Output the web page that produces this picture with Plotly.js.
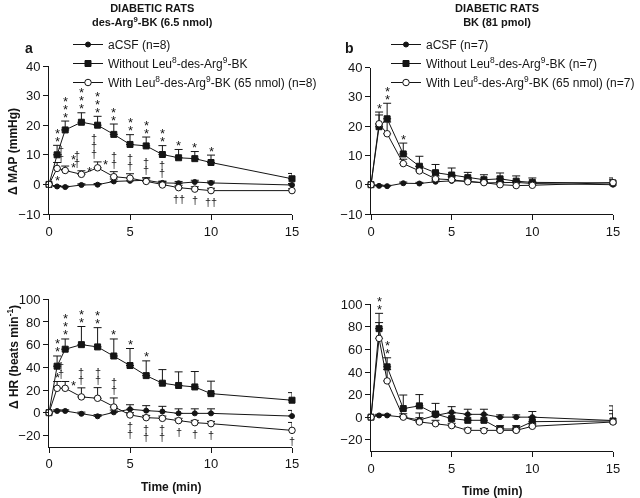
<!DOCTYPE html>
<html>
<head>
<meta charset="utf-8">
<script src="https://cdn.plot.ly/plotly-3.0.1.min.js"></script>
<style>
html,body{margin:0;padding:0;background:#fff;width:640px;height:498px;overflow:hidden;}
#chart{width:640px;height:498px;overflow:hidden;filter:grayscale(100%);}
</style>
</head>
<body>
<div id="chart"></div>
<script>
// ---- data ----
const times = [0, 0.5, 1, 2, 3, 4, 5, 6, 7, 8, 9, 10, 15];
const xTicks = [0, 5, 10, 15];
const mapTicks = [-10, 0, 10, 20, 30, 40];
const hrTicks = [-20, 0, 20, 40, 60, 80, 100];

const seriesNamesA = ['aCSF (n=8)', 'Without Leu<sup>8</sup>-des-Arg<sup>9</sup>-BK', 'With Leu<sup>8</sup>-des-Arg<sup>9</sup>-BK (65 nmol) (n=8)'];
const seriesNamesB = ['aCSF (n=7)', 'Without Leu<sup>8</sup>-des-Arg<sup>9</sup>-BK (n=7)', 'With Leu<sup>8</sup>-des-Arg<sup>9</sup>-BK (65 nmol) (n=7)'];

// Panel a, MAP
const acsfMapA = [0, -0.7, -0.9, -0.2, -0.1, 1.0, 1.2, 1.4, 0.5, 0.4, 0.8, 0.5, -0.2];
const acsfMapAErr = [0, 0.3, 0.3, 0.4, 0.4, 0.8, 0.8, 0.8, 0.6, 0.6, 0.6, 0.6, 0.5];
const withoutMapA = [0, 10, 18.4, 21, 20, 16.9, 13.5, 13, 10.1, 9, 8.7, 7.4, 1.9];
const withoutMapAErr = [0, 3.2, 3, 3.2, 3, 3.5, 3.3, 3, 3, 2.8, 2.4, 2.5, 1.8];
const withMapA = [0, 5.4, 4.7, 3.4, 5.6, 2.6, 2.1, 1.0, -0.2, -1.1, -1.6, -2.1, -2.1];
const withMapAErr = [0, 2, 1.5, 1.2, 2, 1.7, 1.5, 1.2, 1.2, 0.8, 0.8, 0.8, 0.6];
const withoutMapASig = ['', '*|*', '*|*|*', '*|*|*', '*|*|*', '*|*', '*|*', '*|*', '*|*', '*', '*', '*', ''];
const withMapASig = ['', '', '†|†', '†|†', '†|†|†', '†|†', '†|†', '†|†', '†|†', '', '', '', ''];
const withMapASide = ['', '', '*|*', '*', '*', '', '', '', '', '', '', '', ''];
const withMapABelow = ['', '*', '', '', '', '', '', '', '', '††', '†', '††', ''];

// Panel b, MAP
const acsfMapB = [0, -0.4, -0.5, 0.5, 0.4, 1.0, 1.3, 1.2, 0.6, 0.6, 0.8, 0.4, 0];
const acsfMapBErr = [0, 0.3, 0.3, 0.4, 0.4, 0.5, 0.5, 0.5, 0.5, 0.5, 0.5, 0.5, 0.5];
const withoutMapB = [0, 19.8, 22.5, 10.5, 6.3, 4.1, 3.3, 2.4, 1.7, 2.0, 1.2, 0.8, 0.6];
const withoutMapBErr = [0, 5, 5.3, 3.7, 3.4, 2.8, 2.4, 1.8, 1.7, 2, 1.8, 1.5, 1.7];
const withMapB = [0, 20.8, 17.4, 7.2, 4.7, 2.0, 1.7, 1.0, 0.7, 0, -0.3, -0.2, 0.7];
const withMapBErr = [0, 3, 4, 1.5, 1.5, 1, 1, 1, 1, 1, 1, 1, 1];
const withoutMapBSig = ['', '*', '*|*', '*', '', '', '', '', '', '', '', '', ''];

// Panel a, HR
const acsfHrA = [0, 1.5, 1.5, -1, -3.2, 0.3, 3, 1.8, 1, -0.6, -0.6, -0.6, -3];
const acsfHrAErr = [0, 1, 1, 1.5, 1.5, 2, 4, 4.4, 4.6, 4, 4, 4, 5];
const withoutHrA = [0, 41, 56, 60, 58, 50, 41.6, 32.7, 26, 24, 22.7, 16.8, 11];
const withoutHrAErr = [0, 9, 9, 16, 17, 15, 15, 13, 12, 12, 13.6, 11, 6.7];
const withHrA = [0, 21.5, 21.5, 13.9, 12.7, 5, -2, -4.4, -5, -7, -8.8, -9.7, -15.6];
const withHrAErr = [0, 6, 6, 8, 9.4, 8, 2, 2, 2, 2, 2, 2, 7];
const withoutHrASig = ['', '*|*', '*|*|*', '*|*', '*|*', '*', '*', '*', '', '', '', '', ''];
const withHrASig = ['', '*', '†|†', '†|†', '†|†', '†|†', '', '', '', '', '', '', ''];
const withHrASide = ['', '', '*', '', '', '', '', '', '', '', '', '', ''];
const withHrABelow = ['', '', '', '', '', '', '†|†', '†|†', '†|†', '†', '†', '†', '†'];

// Panel b, HR
const acsfHrB = [0, 1.5, 1.5, 0, -2.5, 1.5, 4.3, 2.5, 2.5, 0, 0, 0, -3];
const acsfHrBErr = [0, 1, 1, 1, 2, 2, 5, 4.5, 4.5, 2, 2, 5, 13];
const withoutHrB = [0, 78.4, 44.6, 7.6, 10, 2.8, -1.3, -2.8, -2.8, -10.5, -10.5, -4, -3.4];
const withoutHrBErr = [0, 13.6, 8, 12, 10, 9.4, 5, 5, 5, 3, 3, 4, 9.4];
const withHrB = [0, 69.8, 32.1, 0, -4.3, -5.8, -7.5, -11.7, -12, -11.7, -11.7, -8.1, -4.3];
const withHrBErr = [0, 14, 10, 3, 8, 3, 2, 2, 2, 2, 2, 2, 7.3];
const withoutHrBSig = ['', '*|*', '*|*', '', '', '', '', '', '', '', '', '', ''];

// ---- styling ----
const INK = '#151515';
const FONT = 'Liberation Sans, Arial, Helvetica, sans-serif';
const zeros = times.map(() => 0);

const styles = [
  {symbol: 'circle', size: 5, color: INK, line: {color: INK, width: 1}},
  {symbol: 'square', size: 6, color: INK, line: {color: INK, width: 1}},
  {symbol: 'circle', size: 6.5, color: '#ffffff', line: {color: INK, width: 1}}
];

function mk(xa, ya, vals, errs, idx, name, legend, showleg) {
  return {
    type: 'scatter', mode: 'lines+markers', x: times, y: vals, xaxis: xa, yaxis: ya,
    name: name, legend: legend, showlegend: showleg, cliponaxis: false,
    line: {color: INK, width: 1}, marker: styles[idx],
    error_y: {type: 'data', array: errs, arrayminus: zeros, symmetric: false, color: INK, thickness: 1, width: 4}
  };
}

const data = [
  mk('x', 'y', acsfMapA, acsfMapAErr, 0, seriesNamesA[0], 'legend', true),
  mk('x', 'y', withoutMapA, withoutMapAErr, 1, seriesNamesA[1], 'legend', true),
  mk('x', 'y', withMapA, withMapAErr, 2, seriesNamesA[2], 'legend', true),
  mk('x2', 'y2', acsfMapB, acsfMapBErr, 0, seriesNamesB[0], 'legend2', true),
  mk('x2', 'y2', withoutMapB, withoutMapBErr, 1, seriesNamesB[1], 'legend2', true),
  mk('x2', 'y2', withMapB, withMapBErr, 2, seriesNamesB[2], 'legend2', true),
  mk('x3', 'y3', acsfHrA, acsfHrAErr, 0, seriesNamesA[0], 'legend', false),
  mk('x3', 'y3', withoutHrA, withoutHrAErr, 1, seriesNamesA[1], 'legend', false),
  mk('x3', 'y3', withHrA, withHrAErr, 2, seriesNamesA[2], 'legend', false),
  mk('x4', 'y4', acsfHrB, acsfHrBErr, 0, seriesNamesB[0], 'legend2', false),
  mk('x4', 'y4', withoutHrB, withoutHrBErr, 1, seriesNamesB[1], 'legend2', false),
  mk('x4', 'y4', withHrB, withHrBErr, 2, seriesNamesB[2], 'legend2', false)
];

// ---- significance marks (positioned from data through axes) ----
const ann = [];
function addSig(xref, yref, vals, errs, sigs, mode, side) {
  sigs.forEach((s, i) => {
    if (!s) return;
    s.split('|').forEach((r, k) => {
      const star = r.indexOf('*') >= 0;
      let y, yshift, xshift = 0;
      if (mode === 'above') {
        y = vals[i] + errs[i]; yshift = (star ? 4 : 8) + 8 * k;
        if (side && side[i]) xshift = -4;
      } else if (mode === 'side') {
        y = vals[i]; yshift = 3 + 8 * k; xshift = 8;
      } else {
        y = vals[i]; yshift = -((star ? 12 : 11) + 8 * k);
      }
      ann.push({xref: xref, yref: yref, x: times[i], y: y, text: r, showarrow: false,
        xshift: xshift, yshift: yshift, xanchor: 'center', yanchor: 'middle',
        font: {size: star ? 13 : 11, color: INK, family: FONT}});
    });
  });
}
addSig('x', 'y', withoutMapA, withoutMapAErr, withoutMapASig, 'above');
addSig('x', 'y', withMapA, withMapAErr, withMapASig, 'above', withMapASide);
addSig('x', 'y', withMapA, withMapAErr, withMapASide, 'side');
addSig('x', 'y', withMapA, withMapAErr, withMapABelow, 'below');
addSig('x2', 'y2', withoutMapB, withoutMapBErr, withoutMapBSig, 'above');
addSig('x3', 'y3', withoutHrA, withoutHrAErr, withoutHrASig, 'above');
addSig('x3', 'y3', withHrA, withHrAErr, withHrASig, 'above', withHrASide);
addSig('x3', 'y3', withHrA, withHrAErr, withHrASide, 'side');
addSig('x3', 'y3', withHrA, withHrAErr, withHrABelow, 'below');
addSig('x4', 'y4', withoutHrB, withoutHrBErr, withoutHrBSig, 'above');

// ---- text labels ----
const W = 640, H = 498;
function txt(px, py, text, size, opts) {
  return Object.assign({xref: 'paper', yref: 'paper', x: px / W, y: 1 - py / H, text: text,
    showarrow: false, xanchor: 'center', yanchor: 'middle', font: {size: size, color: INK, family: FONT}}, opts || {});
}
ann.push(txt(152, 0, '<b>DIABETIC RATS</b><br><b>des-Arg<sup>9</sup>-BK (6.5 nmol)</b>', 11, {yanchor: 'top'}));
ann.push(txt(497, 0, '<b>DIABETIC RATS</b><br><b>BK (81 pmol)</b>', 11, {yanchor: 'top'}));
ann.push(txt(29, 48, '<b>a</b>', 14));
ann.push(txt(349, 48, '<b>b</b>', 14));
ann.push(txt(13, 152, '<b>Δ MAP (mmHg)</b>', 12, {textangle: -90}));
ann.push(txt(13, 357, '<b>Δ HR (beats min<sup>-1</sup>)</b>', 12, {textangle: -90}));
ann.push(txt(171, 487, '<b>Time (min)</b>', 12));
ann.push(txt(492, 491, '<b>Time (min)</b>', 12));

function xax(d, anchor) {
  return {domain: d, anchor: anchor, range: [0, 15], tickvals: xTicks, showline: true, linecolor: INK,
    linewidth: 1, ticks: 'outside', ticklen: 5, tickwidth: 1, tickcolor: INK, showgrid: false, zeroline: false,
    tickfont: {size: 13, color: INK, family: FONT}};
}
function yax(d, anchor, range, tv) {
  return {domain: d, anchor: anchor, range: range, tickvals: tv, showline: true, linecolor: INK,
    linewidth: 1, ticks: 'outside', ticklen: 5, tickwidth: 1, tickcolor: INK, showgrid: false, zeroline: false,
    tickfont: {size: 13, color: INK, family: FONT}};
}

const legendBase = {yanchor: 'top', bgcolor: 'rgba(0,0,0,0)', borderwidth: 0,
  font: {size: 12, color: INK, family: FONT}, traceorder: 'normal', itemclick: false};

const layout = {
  width: W, height: H, margin: {l: 0, r: 0, t: 0, b: 0},
  paper_bgcolor: '#ffffff', plot_bgcolor: '#ffffff',
  font: {family: FONT, color: INK, size: 12},
  showlegend: true,
  xaxis: xax([49 / W, 292 / W], 'y'),
  yaxis: yax([1 - 214 / H, 1 - 66 / H], 'x', [-10, 40], mapTicks),
  xaxis2: xax([371 / W, 613 / W], 'y2'),
  yaxis2: yax([1 - 214 / H, 1 - 67.5 / H], 'x2', [-10, 40], mapTicks),
  xaxis3: xax([49 / W, 292 / W], 'y3'),
  yaxis3: yax([1 - 446.7 / H, 1 - 299.3 / H], 'x3', [-30, 100], hrTicks),
  xaxis4: xax([371 / W, 613 / W], 'y4'),
  yaxis4: yax([1 - 451 / H, 1 - 304.3 / H], 'x4', [-30, 100], hrTicks),
  legend: Object.assign({}, legendBase, {x: 68 / W, xanchor: 'left', y: 1 - 30 / H}),
  legend2: Object.assign({}, legendBase, {x: 1, xanchor: 'right', y: 1 - 30 / H}),
  annotations: ann
};

Plotly.newPlot('chart', data, layout, {staticPlot: true, displayModeBar: false});
</script>
</body>
</html>
